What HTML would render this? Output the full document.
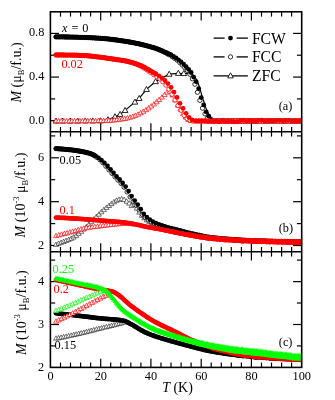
<!DOCTYPE html>
<html><head><meta charset="utf-8"><title>M(T)</title>
<style>
html,body{margin:0;padding:0;background:#fff;}
svg{display:block;font-family:"Liberation Serif",serif;will-change:transform;opacity:0.999;}
</style></head>
<body>
<svg width="335" height="400" viewBox="0 0 335 400">
<defs>
<marker id="fk" markerWidth="10" markerHeight="10" refX="0" refY="0" markerUnits="userSpaceOnUse" viewBox="-5 -5 10 10" overflow="visible"><circle r="2.4" fill="#000"/></marker>
<marker id="fr" markerWidth="10" markerHeight="10" refX="0" refY="0" markerUnits="userSpaceOnUse" viewBox="-5 -5 10 10" overflow="visible"><circle r="2.4" fill="#f00"/></marker>
<marker id="fg" markerWidth="10" markerHeight="10" refX="0" refY="0" markerUnits="userSpaceOnUse" viewBox="-5 -5 10 10" overflow="visible"><path d="M0,-3.0 L2.8,2.1 L-2.8,2.1 Z" fill="#0f0"/></marker>
<marker id="ok" markerWidth="10" markerHeight="10" refX="0" refY="0" markerUnits="userSpaceOnUse" viewBox="-5 -5 10 10" overflow="visible"><circle r="2.15" fill="#fff" stroke="#000" stroke-width="0.8"/></marker>
<marker id="or" markerWidth="10" markerHeight="10" refX="0" refY="0" markerUnits="userSpaceOnUse" viewBox="-5 -5 10 10" overflow="visible"><circle r="2.15" fill="#fff" stroke="#f00" stroke-width="0.8"/></marker>
<marker id="tk" markerWidth="10" markerHeight="10" refX="0" refY="0" markerUnits="userSpaceOnUse" viewBox="-5 -5 10 10" overflow="visible"><path d="M0,-3.0 L2.85,2.05 L-2.85,2.05 Z" fill="#fff" stroke="#000" stroke-width="0.85"/></marker>
<marker id="tr" markerWidth="10" markerHeight="10" refX="0" refY="0" markerUnits="userSpaceOnUse" viewBox="-5 -5 10 10" overflow="visible"><path d="M0,-2.6 L2.5,1.8 L-2.5,1.8 Z" fill="#fff" stroke="#f00" stroke-width="0.7"/></marker>
<marker id="tks" markerWidth="10" markerHeight="10" refX="0" refY="0" markerUnits="userSpaceOnUse" viewBox="-5 -5 10 10" overflow="visible"><path d="M0,-2.6 L2.5,1.8 L-2.5,1.8 Z" fill="#fff" stroke="#000" stroke-width="0.55"/></marker>
<marker id="trs" markerWidth="10" markerHeight="10" refX="0" refY="0" markerUnits="userSpaceOnUse" viewBox="-5 -5 10 10" overflow="visible"><path d="M0,-2.6 L2.5,1.8 L-2.5,1.8 Z" fill="#fff" stroke="#f00" stroke-width="0.7"/></marker>
<marker id="tgs" markerWidth="10" markerHeight="10" refX="0" refY="0" markerUnits="userSpaceOnUse" viewBox="-5 -5 10 10" overflow="visible"><path d="M0,-2.6 L2.5,1.8 L-2.5,1.8 Z" fill="#fff" stroke="#0f0" stroke-width="0.7"/></marker>
<clipPath id="clip"><rect x="50.4" y="11.8" width="251.3" height="355.6"/></clipPath>
</defs>
<rect width="335" height="400" fill="#fff"/>
<g stroke="#000">
<line x1="60.5" y1="11.8" x2="60.5" y2="16.6" stroke-width="1.2"/>
<line x1="60.5" y1="127" x2="60.5" y2="136.6" stroke-width="1.2"/>
<line x1="60.5" y1="247" x2="60.5" y2="256.6" stroke-width="1.2"/>
<line x1="60.5" y1="362.6" x2="60.5" y2="367.4" stroke-width="1.2"/>
<line x1="70.5" y1="11.8" x2="70.5" y2="16.6" stroke-width="1.2"/>
<line x1="70.5" y1="127" x2="70.5" y2="136.6" stroke-width="1.2"/>
<line x1="70.5" y1="247" x2="70.5" y2="256.6" stroke-width="1.2"/>
<line x1="70.5" y1="362.6" x2="70.5" y2="367.4" stroke-width="1.2"/>
<line x1="80.6" y1="11.8" x2="80.6" y2="16.6" stroke-width="1.2"/>
<line x1="80.6" y1="127" x2="80.6" y2="136.6" stroke-width="1.2"/>
<line x1="80.6" y1="247" x2="80.6" y2="256.6" stroke-width="1.2"/>
<line x1="80.6" y1="362.6" x2="80.6" y2="367.4" stroke-width="1.2"/>
<line x1="90.6" y1="11.8" x2="90.6" y2="16.6" stroke-width="1.2"/>
<line x1="90.6" y1="127" x2="90.6" y2="136.6" stroke-width="1.2"/>
<line x1="90.6" y1="247" x2="90.6" y2="256.6" stroke-width="1.2"/>
<line x1="90.6" y1="362.6" x2="90.6" y2="367.4" stroke-width="1.2"/>
<line x1="100.7" y1="11.8" x2="100.7" y2="20.4" stroke-width="1.2"/>
<line x1="100.7" y1="123.2" x2="100.7" y2="140.4" stroke-width="1.2"/>
<line x1="100.7" y1="243.2" x2="100.7" y2="260.4" stroke-width="1.2"/>
<line x1="100.7" y1="358.8" x2="100.7" y2="367.4" stroke-width="1.2"/>
<line x1="110.7" y1="11.8" x2="110.7" y2="16.6" stroke-width="1.2"/>
<line x1="110.7" y1="127" x2="110.7" y2="136.6" stroke-width="1.2"/>
<line x1="110.7" y1="247" x2="110.7" y2="256.6" stroke-width="1.2"/>
<line x1="110.7" y1="362.6" x2="110.7" y2="367.4" stroke-width="1.2"/>
<line x1="120.8" y1="11.8" x2="120.8" y2="16.6" stroke-width="1.2"/>
<line x1="120.8" y1="127" x2="120.8" y2="136.6" stroke-width="1.2"/>
<line x1="120.8" y1="247" x2="120.8" y2="256.6" stroke-width="1.2"/>
<line x1="120.8" y1="362.6" x2="120.8" y2="367.4" stroke-width="1.2"/>
<line x1="130.8" y1="11.8" x2="130.8" y2="16.6" stroke-width="1.2"/>
<line x1="130.8" y1="127" x2="130.8" y2="136.6" stroke-width="1.2"/>
<line x1="130.8" y1="247" x2="130.8" y2="256.6" stroke-width="1.2"/>
<line x1="130.8" y1="362.6" x2="130.8" y2="367.4" stroke-width="1.2"/>
<line x1="140.9" y1="11.8" x2="140.9" y2="16.6" stroke-width="1.2"/>
<line x1="140.9" y1="127" x2="140.9" y2="136.6" stroke-width="1.2"/>
<line x1="140.9" y1="247" x2="140.9" y2="256.6" stroke-width="1.2"/>
<line x1="140.9" y1="362.6" x2="140.9" y2="367.4" stroke-width="1.2"/>
<line x1="150.9" y1="11.8" x2="150.9" y2="20.4" stroke-width="1.2"/>
<line x1="150.9" y1="123.2" x2="150.9" y2="140.4" stroke-width="1.2"/>
<line x1="150.9" y1="243.2" x2="150.9" y2="260.4" stroke-width="1.2"/>
<line x1="150.9" y1="358.8" x2="150.9" y2="367.4" stroke-width="1.2"/>
<line x1="161" y1="11.8" x2="161" y2="16.6" stroke-width="1.2"/>
<line x1="161" y1="127" x2="161" y2="136.6" stroke-width="1.2"/>
<line x1="161" y1="247" x2="161" y2="256.6" stroke-width="1.2"/>
<line x1="161" y1="362.6" x2="161" y2="367.4" stroke-width="1.2"/>
<line x1="171" y1="11.8" x2="171" y2="16.6" stroke-width="1.2"/>
<line x1="171" y1="127" x2="171" y2="136.6" stroke-width="1.2"/>
<line x1="171" y1="247" x2="171" y2="256.6" stroke-width="1.2"/>
<line x1="171" y1="362.6" x2="171" y2="367.4" stroke-width="1.2"/>
<line x1="181.1" y1="11.8" x2="181.1" y2="16.6" stroke-width="1.2"/>
<line x1="181.1" y1="127" x2="181.1" y2="136.6" stroke-width="1.2"/>
<line x1="181.1" y1="247" x2="181.1" y2="256.6" stroke-width="1.2"/>
<line x1="181.1" y1="362.6" x2="181.1" y2="367.4" stroke-width="1.2"/>
<line x1="191.1" y1="11.8" x2="191.1" y2="16.6" stroke-width="1.2"/>
<line x1="191.1" y1="127" x2="191.1" y2="136.6" stroke-width="1.2"/>
<line x1="191.1" y1="247" x2="191.1" y2="256.6" stroke-width="1.2"/>
<line x1="191.1" y1="362.6" x2="191.1" y2="367.4" stroke-width="1.2"/>
<line x1="201.2" y1="11.8" x2="201.2" y2="20.4" stroke-width="1.2"/>
<line x1="201.2" y1="123.2" x2="201.2" y2="140.4" stroke-width="1.2"/>
<line x1="201.2" y1="243.2" x2="201.2" y2="260.4" stroke-width="1.2"/>
<line x1="201.2" y1="358.8" x2="201.2" y2="367.4" stroke-width="1.2"/>
<line x1="211.2" y1="11.8" x2="211.2" y2="16.6" stroke-width="1.2"/>
<line x1="211.2" y1="127" x2="211.2" y2="136.6" stroke-width="1.2"/>
<line x1="211.2" y1="247" x2="211.2" y2="256.6" stroke-width="1.2"/>
<line x1="211.2" y1="362.6" x2="211.2" y2="367.4" stroke-width="1.2"/>
<line x1="221.3" y1="11.8" x2="221.3" y2="16.6" stroke-width="1.2"/>
<line x1="221.3" y1="127" x2="221.3" y2="136.6" stroke-width="1.2"/>
<line x1="221.3" y1="247" x2="221.3" y2="256.6" stroke-width="1.2"/>
<line x1="221.3" y1="362.6" x2="221.3" y2="367.4" stroke-width="1.2"/>
<line x1="231.3" y1="11.8" x2="231.3" y2="16.6" stroke-width="1.2"/>
<line x1="231.3" y1="127" x2="231.3" y2="136.6" stroke-width="1.2"/>
<line x1="231.3" y1="247" x2="231.3" y2="256.6" stroke-width="1.2"/>
<line x1="231.3" y1="362.6" x2="231.3" y2="367.4" stroke-width="1.2"/>
<line x1="241.4" y1="11.8" x2="241.4" y2="16.6" stroke-width="1.2"/>
<line x1="241.4" y1="127" x2="241.4" y2="136.6" stroke-width="1.2"/>
<line x1="241.4" y1="247" x2="241.4" y2="256.6" stroke-width="1.2"/>
<line x1="241.4" y1="362.6" x2="241.4" y2="367.4" stroke-width="1.2"/>
<line x1="251.4" y1="11.8" x2="251.4" y2="20.4" stroke-width="1.2"/>
<line x1="251.4" y1="123.2" x2="251.4" y2="140.4" stroke-width="1.2"/>
<line x1="251.4" y1="243.2" x2="251.4" y2="260.4" stroke-width="1.2"/>
<line x1="251.4" y1="358.8" x2="251.4" y2="367.4" stroke-width="1.2"/>
<line x1="261.5" y1="11.8" x2="261.5" y2="16.6" stroke-width="1.2"/>
<line x1="261.5" y1="127" x2="261.5" y2="136.6" stroke-width="1.2"/>
<line x1="261.5" y1="247" x2="261.5" y2="256.6" stroke-width="1.2"/>
<line x1="261.5" y1="362.6" x2="261.5" y2="367.4" stroke-width="1.2"/>
<line x1="271.5" y1="11.8" x2="271.5" y2="16.6" stroke-width="1.2"/>
<line x1="271.5" y1="127" x2="271.5" y2="136.6" stroke-width="1.2"/>
<line x1="271.5" y1="247" x2="271.5" y2="256.6" stroke-width="1.2"/>
<line x1="271.5" y1="362.6" x2="271.5" y2="367.4" stroke-width="1.2"/>
<line x1="281.6" y1="11.8" x2="281.6" y2="16.6" stroke-width="1.2"/>
<line x1="281.6" y1="127" x2="281.6" y2="136.6" stroke-width="1.2"/>
<line x1="281.6" y1="247" x2="281.6" y2="256.6" stroke-width="1.2"/>
<line x1="281.6" y1="362.6" x2="281.6" y2="367.4" stroke-width="1.2"/>
<line x1="291.6" y1="11.8" x2="291.6" y2="16.6" stroke-width="1.2"/>
<line x1="291.6" y1="127" x2="291.6" y2="136.6" stroke-width="1.2"/>
<line x1="291.6" y1="247" x2="291.6" y2="256.6" stroke-width="1.2"/>
<line x1="291.6" y1="362.6" x2="291.6" y2="367.4" stroke-width="1.2"/>
<line x1="50.4" y1="120.7" x2="59" y2="120.7" stroke-width="1.2"/>
<line x1="293.1" y1="120.7" x2="301.7" y2="120.7" stroke-width="1.2"/>
<line x1="50.4" y1="77.1" x2="59" y2="77.1" stroke-width="1.2"/>
<line x1="293.1" y1="77.1" x2="301.7" y2="77.1" stroke-width="1.2"/>
<line x1="50.4" y1="33.4" x2="59" y2="33.4" stroke-width="1.2"/>
<line x1="293.1" y1="33.4" x2="301.7" y2="33.4" stroke-width="1.2"/>
<line x1="50.4" y1="98.9" x2="55.2" y2="98.9" stroke-width="1.2"/>
<line x1="296.9" y1="98.9" x2="301.7" y2="98.9" stroke-width="1.2"/>
<line x1="50.4" y1="55.2" x2="55.2" y2="55.2" stroke-width="1.2"/>
<line x1="296.9" y1="55.2" x2="301.7" y2="55.2" stroke-width="1.2"/>
<line x1="50.4" y1="245.5" x2="59" y2="245.5" stroke-width="1.2"/>
<line x1="293.1" y1="245.5" x2="301.7" y2="245.5" stroke-width="1.2"/>
<line x1="50.4" y1="201.7" x2="59" y2="201.7" stroke-width="1.2"/>
<line x1="293.1" y1="201.7" x2="301.7" y2="201.7" stroke-width="1.2"/>
<line x1="50.4" y1="157.8" x2="59" y2="157.8" stroke-width="1.2"/>
<line x1="293.1" y1="157.8" x2="301.7" y2="157.8" stroke-width="1.2"/>
<line x1="50.4" y1="223.6" x2="55.2" y2="223.6" stroke-width="1.2"/>
<line x1="296.9" y1="223.6" x2="301.7" y2="223.6" stroke-width="1.2"/>
<line x1="50.4" y1="179.7" x2="55.2" y2="179.7" stroke-width="1.2"/>
<line x1="296.9" y1="179.7" x2="301.7" y2="179.7" stroke-width="1.2"/>
<line x1="50.4" y1="135.9" x2="55.2" y2="135.9" stroke-width="1.2"/>
<line x1="296.9" y1="135.9" x2="301.7" y2="135.9" stroke-width="1.2"/>
<line x1="50.4" y1="324.5" x2="59" y2="324.5" stroke-width="1.2"/>
<line x1="293.1" y1="324.5" x2="301.7" y2="324.5" stroke-width="1.2"/>
<line x1="50.4" y1="281.6" x2="59" y2="281.6" stroke-width="1.2"/>
<line x1="293.1" y1="281.6" x2="301.7" y2="281.6" stroke-width="1.2"/>
<line x1="50.4" y1="345.9" x2="55.2" y2="345.9" stroke-width="1.2"/>
<line x1="296.9" y1="345.9" x2="301.7" y2="345.9" stroke-width="1.2"/>
<line x1="50.4" y1="303" x2="55.2" y2="303" stroke-width="1.2"/>
<line x1="296.9" y1="303" x2="301.7" y2="303" stroke-width="1.2"/>
<line x1="50.4" y1="260.1" x2="55.2" y2="260.1" stroke-width="1.2"/>
<line x1="296.9" y1="260.1" x2="301.7" y2="260.1" stroke-width="1.2"/>
</g>
<g clip-path="url(#clip)">
<polyline points="56,121 62.6,121 70.2,121 77.7,121 85.3,120.9 92.8,120.9 100.4,120.8 108,119.7 115,116.7 120.1,114.4 125.1,110.4 134.9,102.1 139.2,98.4 146.5,89.4 155.6,81.6 169.2,74.2 178.3,73.3 183.8,73.5 189.1,73.7 192.4,74.2 194.4,76.2 195.7,78.4 196.9,80.7 198.2,83.5 199.4,87 200.7,91.3 202,96 203.2,99.7 204.5,103.3 205.7,107.4 207,110.8 208.3,113.3 209.5,115.4 210.8,117.4 212,119.2 213.3,120.3 214.6,120.8 215.8,121 217.1,121 218.3,121 219.6,121 220.9,121 222.1,121 223.4,121 224.6,121 225.9,121 227.2,121 228.4,121 229.7,121 230.9,121 232.2,121 233.5,121 234.7,121 236,121 237.2,121 238.5,121 239.8,121 241,121 242.3,121 243.5,121 244.8,121 246.1,121 247.3,121 248.6,121 249.8,121 251.1,121 252.4,121 253.6,121 254.9,121 256.1,121 257.4,121 258.7,121 259.9,121 261.2,121 262.4,121 263.7,121 265,121 266.2,121 267.5,121 268.7,121 270,121 271.3,121 272.5,121 273.8,121 275,121 276.3,121 277.6,121 278.8,121 280.1,121 281.3,121 282.6,121 283.9,121 285.1,121 286.4,121 287.6,121 288.9,121 290.2,121 291.4,121 292.7,121 293.9,121 295.2,121 296.5,121 297.7,121 299,121 300.2,121 301.5,121" fill="none" stroke="#000" stroke-width="1.2"/>
<polyline points="56,121 62.6,121 70.2,121 77.7,121 85.3,120.9 92.8,120.9 100.4,120.8 108,119.7 115,116.7 120.1,114.4 125.1,110.4 134.9,102.1 139.2,98.4 146.5,89.4 155.6,81.6 169.2,74.2 178.3,73.3 183.8,73.5" fill="none" stroke="none" marker-start="url(#tk)" marker-mid="url(#tk)" marker-end="url(#tk)"/>
<polyline points="56,36.9 58.1,36.9 60.1,36.9 62.1,36.9 64.1,36.9 66.1,37 68.1,37 70.2,37.1 72.2,37.1 74.2,37.2 76.2,37.2 78.2,37.3 80.2,37.3 82.3,37.4 84.3,37.5 86.3,37.5 88.3,37.6 90.3,37.7 92.3,37.8 94.4,37.9 96.4,38.1 98.4,38.2 100.4,38.3 102.4,38.5 104.4,38.6 106.4,38.8 108.5,39 110.5,39.3 112.5,39.5 114.5,39.8 116.5,40 118.5,40.3 120.6,40.6 122.6,40.9 124.6,41.2 126.6,41.5 128.6,41.9 130.6,42.2 132.7,42.6 134.7,43 136.7,43.4 138.7,43.8 140.7,44.3 142.7,44.8 144.8,45.3 146.8,45.8 148.8,46.3 150.8,46.9 152.8,47.5 154.8,48.1 156.8,48.9 158.9,49.7 160.9,50.6 162.9,51.5 164.9,52.5 166.9,53.6 168.9,54.7 172.2,56.7 174.7,58.4 177.3,60.3 179.8,62.6 182.3,65.1 184.8,67.7 187.3,70.4 189.9,74.3 192.4,78.8 194.9,84.2 197.4,92.3 199.9,100.4 202.5,108.2 205,113.8 207.5,117.8 210,120.4 212.5,121 215.1,121 217.6,121 220.1,121 222.6,121 225.1,121 227.7,121 230.2,121 232.7,121 235.2,121 237.7,121 240.3,121 242.8,121 245.3,121 247.8,121 250.3,121 252.9,121 255.4,121 257.9,121 260.4,121 262.9,121 265.5,121 268,121 270.5,121 273,121 275.5,121 278.1,121 280.6,121 283.1,121 285.6,121 288.1,121 290.7,121 293.2,121 295.7,121 298.2,121 300.7,121" fill="none" stroke="none" marker-start="url(#ok)" marker-mid="url(#ok)" marker-end="url(#ok)"/>
<polyline points="56,36.9 57.3,36.9 58.6,36.9 59.8,36.9 61.1,36.9 62.3,36.9 63.6,36.9 64.9,37 66.1,37 67.4,37 68.6,37 69.9,37.1 71.2,37.1 72.4,37.1 73.7,37.1 74.9,37.2 76.2,37.2 77.5,37.2 78.7,37.3 80,37.3 81.2,37.4 82.5,37.4 83.8,37.4 85,37.5 86.3,37.5 87.5,37.6 88.8,37.7 90.1,37.7 91.3,37.8 92.6,37.8 93.8,37.9 95.1,38 96.4,38.1 97.6,38.1 98.9,38.2 100.1,38.3 101.4,38.4 102.7,38.5 103.9,38.6 105.2,38.7 106.4,38.8 107.7,38.9 109,39.1 110.2,39.2 111.5,39.4 112.7,39.5 114,39.7 115.3,39.9 116.5,40 117.8,40.2 119,40.4 120.3,40.6 121.6,40.8 122.8,40.9 124.1,41.1 125.3,41.3 126.6,41.5 127.9,41.7 129.1,42 130.4,42.2 131.6,42.4 132.9,42.6 134.2,42.9 135.4,43.1 136.7,43.4 137.9,43.7 139.2,43.9 140.5,44.2 141.7,44.5 143,44.8 144.2,45.1 145.5,45.4 146.8,45.8 148,46.1 149.3,46.4 150.5,46.8 151.8,47.2 153.1,47.5 154.3,47.9 155.6,48.3 156.8,48.7 158.1,49.2 159.4,49.7 160.6,50.2 161.9,50.7 163.1,51.3 164.4,51.8 165.7,52.4 166.9,53 168.2,53.6 169.4,54.2 170.7,54.9 171,55 173.5,56.5 176,58 178.5,59.8 181,61.8 183.6,64.1 186.1,66.7 188.6,69.3 191.1,72.5 193.6,77.1 196.2,81.7 198.7,88.6 201.2,97.6 203.7,104.9 206.2,111.9 208.8,116.2 211.3,119.7 213.8,121 216.3,121 218.8,121 221.4,121 223.9,121 226.4,121 228.9,121 231.4,121 234,121 236.5,121 239,121 241.5,121 244,121 246.6,121 249.1,121 251.6,121 254.1,121 256.6,121 259.2,121 261.7,121 264.2,121 266.7,121 269.2,121 271.8,121 274.3,121 276.8,121 279.3,121 281.8,121 284.4,121 286.9,121 289.4,121 291.9,121 294.4,121 297,121 299.5,121 302,121" fill="none" stroke="none" marker-start="url(#fk)" marker-mid="url(#fk)" marker-end="url(#fk)"/>
<polyline points="56,121 58.7,121 61.3,121 64,121 66.6,121 69.3,121 71.9,121 74.6,121 77.2,121 79.9,121 82.5,120.9 85.2,120.9 87.8,120.9 90.4,120.9 93.1,120.9 95.7,120.9 98.4,120.8 101,120.8 103.7,120.8 106.3,120.8 109,120.6 111.6,120.4 114.3,120.1 116.9,119.8 119.6,119.5 122.2,119.1 124.8,118.7 127.5,118.1 130.1,117.4 132.8,116.5 135.4,115.5 138.1,114.4 140.7,113 143.4,111.5 146,109.9 148.7,108.1 151.3,106.2 154,104.2 156.6,102 159.2,99.8 161.9,97.3 164.5,94.8 167.2,92.3 169.8,91.4 172.5,95.2 175.1,100.1 177.8,105.2 180.4,109.3 183.1,113.8 185.7,117.3 188.3,119.6 191,120.7 193.6,121 196.3,121 198.9,121 201.6,121 204.2,121 206.9,121 209.5,121 212.2,121 214.8,121 217.5,121 220.1,121 222.7,121 225.4,121 228,121 230.7,121 233.3,121 236,121 238.6,121 241.3,121 243.9,121 246.6,121 249.2,121 251.9,121 254.5,121 257.1,121 259.8,121 262.4,121 265.1,121 267.7,121 270.4,121 273,121 275.7,121 278.3,121 281,121 283.6,121 286.3,121 288.9,121 291.5,121 294.2,121 296.8,121 299.5,121" fill="none" stroke="none" marker-start="url(#tr)" marker-mid="url(#tr)" marker-end="url(#tr)"/>
<polyline points="56,55 58.1,55 60.1,55 62.1,55 64.1,55 66.1,55.1 68.1,55.1 70.2,55.1 72.2,55.1 74.2,55.2 76.2,55.2 78.2,55.3 80.2,55.4 82.3,55.5 84.3,55.6 86.3,55.7 88.3,55.9 90.3,56.1 92.3,56.3 94.4,56.5 96.4,56.8 98.4,57 100.4,57.3 102.4,57.5 104.4,57.8 106.4,58.1 108.5,58.4 110.5,58.7 112.5,59 114.5,59.3 116.5,59.6 118.5,59.9 120.6,60.2 122.6,60.5 124.6,60.8 126.6,61.2 128.6,61.7 130.6,62.2 132.7,62.8 134.7,63.5 136.7,64.3 138.7,65.2 140.7,66.1 142.7,67.2 144.8,68.5 146.8,69.7 148.8,71.1 150.8,72.6 153.8,74.6 156.8,76.7 159.9,79 162.9,81.8 165.9,85.1 168.9,89.2 172,94.3 175,99.9 178,105.6 181,110.3 184.1,115.4 187.1,118.7 190.1,120.4 193.1,121 196.2,121 199.2,120.8 202.2,120.9 205.2,120.9 208.3,121.3 211.3,121.3 214.3,120.6 217.3,120.8 220.4,121.2 223.4,120.4 226.4,120.9 229.4,121 232.4,121.4 235.5,121.2 238.5,120.9 241.5,120.9 244.5,120.9 247.6,121.5 250.6,120.9 253.6,120.9 256.6,121.1 259.7,121 262.7,120.9 265.7,120.7 268.7,121 271.8,120.9 274.8,121.3 277.8,121.2 280.8,121 283.9,121.2 286.9,120.9 289.9,121.3 292.9,121 296,121.2 299,120.6 302,121.1" fill="none" stroke="none" marker-start="url(#or)" marker-mid="url(#or)" marker-end="url(#or)"/>
<polyline points="56,55 57.3,55 58.6,55 59.8,55 61.1,55 62.3,55 63.6,55 64.9,55.1 66.1,55.1 67.4,55.1 68.6,55.1 69.9,55.1 71.2,55.1 72.4,55.1 73.7,55.2 74.9,55.2 76.2,55.2 77.5,55.3 78.7,55.3 80,55.4 81.2,55.4 82.5,55.5 83.8,55.5 85,55.6 86.3,55.7 87.5,55.8 88.8,55.9 90.1,56 91.3,56.2 92.6,56.3 93.8,56.5 95.1,56.6 96.4,56.8 97.6,56.9 98.9,57.1 100.1,57.2 101.4,57.4 102.7,57.6 103.9,57.7 105.2,57.9 106.4,58.1 107.7,58.3 109,58.5 110.2,58.7 111.5,58.8 112.7,59 114,59.2 115.3,59.4 116.5,59.6 117.8,59.8 119,59.9 120.3,60.1 121.6,60.3 122.8,60.5 124.1,60.7 125.3,61 126.6,61.2 127.9,61.5 129.1,61.8 130.4,62.1 131.6,62.5 132.9,62.8 134.2,63.2 135.4,63.6 136.7,64 137.9,64.5 139.2,65 140.5,65.4 141.7,66 143,66.6 144.2,67.2 145.5,67.9 146.8,68.6 148,69.3 149.3,70 150.5,70.8 151.8,71.6 153.1,72.4 154.3,73.1 155.6,73.9 155.8,74 158.9,75.8 161.9,78 164.9,80.5 167.9,83.6 171,87.4 174,92.1 177,97.4 180,103.3 183.1,108.4 186.1,113.3 189.1,117.4 192.1,119.9 195.2,120.9 198.2,121.1 201.2,121 204.2,121.2 207.2,121.4 210.3,121.4 213.3,121.4 216.3,120.8 219.3,121.7 222.4,120.4 225.4,121.4 228.4,121.2 231.4,121.4 234.5,121.8 237.5,121.7 240.5,120.5 243.5,120.2 246.6,121.4 249.6,120.5 252.6,121 255.6,121.4 258.7,120.3 261.7,120.1 264.7,121.1 267.7,121 270.8,120.9 273.8,121 276.8,120.6 279.8,120.3 282.8,120.9 285.9,120.6 288.9,120.3 291.9,121.2 294.9,121 298,121.2 301,120.6" fill="none" stroke="none" marker-start="url(#fr)" marker-mid="url(#fr)" marker-end="url(#fr)"/>
<polyline points="56,244.6 58.6,243.5 61.1,242.6 63.6,241.7 66.1,240.7 68.6,239.7 71.2,238.6 73.7,237.2 76.2,235.6 78.7,233.6 81.2,231.5 83.8,229.2 86.3,226.9 88.8,224.5 91.3,221.9 93.8,219.3 96.4,216.8 98.9,214.4 101.4,212 103.9,209.8 106.4,207.6 109,205.7 111.5,203.8 114,202 116.5,200.5 119,199.5 121.6,199 124.1,199.7 126.6,201.4 129.1,203.3 131.6,205.8 134.2,204.7 136.7,208.4 139.2,212.3 141.7,215.6 144.2,218 146.8,220 149.3,221.6 151.8,222.8 154.3,223.9 156.8,224.8 159.4,225.6 161.9,226.4 164.4,227.1 166.9,227.8 169.4,228.4 172,229 174.5,229.6 177,230.2 179.5,230.8 182,231.4 184.6,232.1 187.1,232.7 189.6,233.3 192.1,233.9 194.6,234.4 197.2,234.9 199.7,235.4" fill="none" stroke="none" marker-start="url(#tks)" marker-mid="url(#tks)" marker-end="url(#tks)"/>
<polyline points="56,148.6 58.1,148.8 60.1,148.9 62.1,149 64.1,149.2 66.1,149.4 68.1,149.6 70.2,149.8 72.2,150 74.2,150.3 76.2,150.6 78.2,150.9 80.2,151.2 82.3,151.6 84.3,152 86.3,152.5 88.3,153 90.3,153.6 92.3,154.5 94.4,155.7 96.9,157.4 99.9,159.8 102.9,162.8 105.9,166.3 109,169.9 112,173.4 115,176.8 118,180.1 121.1,183.5 124.1,187.2 127.1,191.9 130.1,196.9 133.2,201.3 136.2,205.4 139.2,210 142.2,214.4 145.3,217.5 148.3,220 151.3,221.9 154.3,223.3 157.4,224.5 160.4,225.6 163.4,226.6 166.4,227.5 169.4,228.3 172.5,229.1 175.5,229.9 178.5,230.6 181.5,231.4 184.6,232.1 187.6,232.9 190.6,233.6 193.6,234.2 196.7,234.8 199.7,235.4 202.7,236 205.7,236.6 208.8,237.1 211.8,237.5 214.8,237.9 217.8,238.2 220.9,238.5 223.9,238.7 226.9,238.9 229.9,239.2 233,239.4 236,239.6 239,239.8 242,240 245,240.2 248.1,240.4 251.1,240.5 254.1,240.6 257.1,240.7 260.2,240.8 263.2,240.9 266.2,241 269.2,241.1 272.3,241.2 275.3,241.3 278.3,241.4 281.3,241.4 284.4,241.5 287.4,241.6 290.4,241.6 293.4,241.7 296.5,241.7 299.5,241.7" fill="none" stroke="none" marker-start="url(#ok)" marker-mid="url(#ok)" marker-end="url(#ok)"/>
<polyline points="56,148.6 57.3,148.7 58.6,148.8 59.8,148.9 61.1,149 62.3,149.1 63.6,149.2 64.9,149.3 66.1,149.4 67.4,149.5 68.6,149.6 69.9,149.8 71.2,149.9 72.4,150.1 73.7,150.2 74.9,150.4 76.2,150.6 77.5,150.8 78.7,151 80,151.2 81.2,151.4 82.5,151.7 83.8,151.9 85,152.2 86.3,152.5 87.5,152.8 88.8,153.1 90.1,153.5 91.3,153.9 92.6,154.4 93.8,155 95.1,155.8 95.4,155.9 98.4,157.8 101.4,160.1 104.4,162.8 107.5,166 110.5,169.3 113.5,172.8 116.5,176.3 119.6,179.5 122.6,182.9 125.6,186.6 128.6,191.1 131.6,196.1 134.7,200.6 137.7,204.7 140.7,209.2 143.7,213.8 146.8,217.1 149.8,219.6 152.8,221.6 155.8,223.1 158.9,224.4 161.9,225.4 164.9,226.4 167.9,227.4 171,228.2 174,229 177,229.7 180,230.5 183.1,231.3 186.1,232.2 189.1,233 192.1,233.7 195.2,234.4 198.2,235.1 201.2,235.7 204.2,236.3 207.2,236.9 210.3,237.3 213.3,237.7 216.3,238 219.3,238.3 222.4,238.6 225.4,238.8 228.4,239.1 231.4,239.3 234.5,239.5 237.5,239.7 240.5,239.9 243.5,240.1 246.6,240.3 249.6,240.4 252.6,240.6 255.6,240.7 258.7,240.8 261.7,240.9 264.7,241 267.7,241.1 270.8,241.2 273.8,241.3 276.8,241.3 279.8,241.4 282.8,241.5 285.9,241.5 288.9,241.6 291.9,241.6 294.9,241.7 298,241.7 301,241.7" fill="none" stroke="none" marker-start="url(#fk)" marker-mid="url(#fk)" marker-end="url(#fk)"/>
<polyline points="56,235.8 58.8,235.1 61.6,234.4 64.4,233.7 67.1,233 69.9,232.2 72.7,231.5 75.5,230.7 78.2,229.9 81,229.1 83.8,228.4 86.5,227.9 89.3,227.4 92.1,227.1 94.9,226.7 97.6,226.4 100.4,226 103.2,225.7 105.9,225.3 108.7,225 111.5,224.7 114.3,224.4 117,224.1 119.8,223.8 122.6,223.5 125.3,223.4 128.1,223.5 130.9,223.8 133.7,224.2" fill="none" stroke="none" marker-start="url(#trs)" marker-mid="url(#trs)" marker-end="url(#trs)"/>
<polyline points="56,217.6 57.3,217.7 58.6,217.7 59.8,217.8 61.1,217.8 62.3,217.9 63.6,217.9 64.9,218 66.1,218.1 67.4,218.1 68.6,218.2 69.9,218.3 71.2,218.4 72.4,218.4 73.7,218.5 74.9,218.6 76.2,218.7 77.5,218.7 78.7,218.8 80,218.9 81.2,219 82.5,219.1 83.8,219.2 85,219.3 86.3,219.4 87.5,219.5 88.8,219.6 90.1,219.7 91.3,219.8 92.6,219.9 93.8,220 95.1,220.1 96.4,220.2 97.6,220.3 98.9,220.4 100.1,220.5 101.4,220.6 102.7,220.7 103.9,220.8 105.2,220.9 106.4,221 107.7,221.1 109,221.2 110.2,221.3 111.5,221.4 112.7,221.5 114,221.6 115.3,221.7 116.5,221.8 117.8,221.9 119,222 120.3,222.1 121.6,222.3 122.8,222.4 124.1,222.6 125.3,222.7 126.6,222.9 127.9,223.1 129.1,223.2 130.4,223.4 131.6,223.6 132.9,223.8 134.2,224.1 135.4,224.3 136.7,224.6 137.9,224.9 139.2,225.2 140.5,225.5 141.7,225.8 143,226.1 144.2,226.4 145.5,226.6 146.8,226.9 148,227.1 149.3,227.4 150.5,227.6 151.8,227.8 153.1,228 154.3,228.3 155.6,228.5 156.8,228.7 158.1,228.9 159.4,229.2 160.6,229.4 161.9,229.6 163.1,229.9 164.4,230.1 165.7,230.3 166.9,230.6 168.2,230.8 169.4,231.1 170.7,231.3 172,231.6 173.2,231.8 174.5,232.1 175.7,232.4 177,232.6 178.3,232.8 179.5,233.1 180.8,233.3 182,233.5 183.3,233.8 184.6,234.1 185.8,234.2 187.1,234.5 188.3,234.6 189.6,234.9 190.9,235 192.1,235.3 193.4,235.6 194.6,235.7 195.9,236 197.2,236.2 198.4,236.3 199.7,236.5 200.9,236.9 202.2,236.9 203.5,237 204.7,237.1 206,237.4 207.2,237.7 208.5,237.8 209.8,237.7 211,237.9 212.3,238 213.5,238.3 214.8,238.3 216.1,238.5 217.3,238.6 218.6,238.6 219.8,238.7 221.1,238.8 222.4,238.9 223.6,239.1 224.9,239.3 226.1,239.2 227.4,239.2 228.7,239.1 229.9,239.5 231.2,239.2 232.4,239.3 233.7,239.8 235,239.8 236.2,239.8 237.5,239.6 238.7,239.9 240,239.9 241.3,240.1 242.5,240.5 243.8,240.2 245,240.1 246.3,240.1 247.6,240.3 248.8,240.4 250.1,240.3 251.3,240.5 252.6,240.4 253.9,240.8 255.1,240.8 256.4,240.8 257.6,240.6 258.9,240.8 260.2,240.8 261.4,240.8 262.7,240.8 263.9,240.7 265.2,240.7 266.5,241.1 267.7,241 269,241.1 270.2,241.3 271.5,240.9 272.8,241.1 274,241.2 275.3,241.3 276.5,241.2 277.8,241.5 279.1,241.4 280.3,241.2 281.6,241.3 282.8,241.5 284.1,241.5 285.4,241.2 286.6,241.7 287.9,241.6 289.1,241.8 290.4,241.5 291.7,241.5 292.9,241.4 294.2,242 295.4,241.6 296.7,241.9 298,241.6 299.2,241.7 300.5,241.4 301.7,241.6" fill="none" stroke="none" marker-start="url(#fr)" marker-mid="url(#fr)" marker-end="url(#fr)"/>
<polyline points="164.4,230.1 165.7,230.4 166.9,230.6 168.2,230.9 169.4,231.2 170.7,231.4 172,231.7 173.2,232 174.5,232.3 175.7,232.6 177,232.8 178.3,233.1 179.5,233.3 180.8,233.6 182,233.8 183.3,234.1 184.6,234.4 185.8,234.6 187.1,234.8 188.3,235 189.6,235.3 190.9,235.4 192.1,235.7 193.4,236.1 194.6,236.1 195.9,236.5 197.2,236.7 198.4,236.8 199.7,237.1 200.9,237.4 202.2,237.4 203.5,237.6 204.7,237.7 206,238 207.2,238.3 208.5,238.5 209.8,238.4 211,238.6 212.3,238.7 213.5,239 214.8,239 216.1,239.2 217.3,239.3 218.6,239.4 219.8,239.5 221.1,239.7 222.4,239.7 223.6,239.9 224.9,240.2 226.1,240.1 227.4,240.1 228.7,240 229.9,240.4 231.2,240.1 232.4,240.2 233.7,240.7 235,240.7 236.2,240.7 237.5,240.5 238.7,240.8 240,240.8 241.3,241 242.5,241.4 243.8,241.1 245,241 246.3,241 247.6,241.2 248.8,241.3 250.1,241.2 251.3,241.4 252.6,241.3 253.9,241.7 255.1,241.7 256.4,241.7 257.6,241.5 258.9,241.7 260.2,241.7 261.4,241.7 262.7,241.7 263.9,241.6 265.2,241.6 266.5,242 267.7,241.9 269,242 270.2,242.2 271.5,241.8 272.8,242 274,242.1 275.3,242.2 276.5,242.1 277.8,242.4 279.1,242.3 280.3,242.1 281.6,242.2 282.8,242.4 284.1,242.4 285.4,242.1 286.6,242.6 287.9,242.5 289.1,242.7 290.4,242.4 291.7,242.4 292.9,242.3 294.2,242.9 295.4,242.5 296.7,242.8 298,242.5 299.2,242.6 300.5,242.3 301.7,242.5" fill="none" stroke="none" marker-start="url(#fr)" marker-mid="url(#fr)" marker-end="url(#fr)"/>
<polyline points="56,338.4 58.6,338 61.1,337.5 63.6,337 66.1,336.5 68.6,335.9 71.2,335.4 73.7,334.8 76.2,334.3 78.7,333.7 81.2,333.1 83.8,332.5 86.3,331.9 88.8,331.3 91.3,330.6 93.8,330 96.4,329.3 98.9,328.7 101.4,328.1 103.9,327.4 106.4,326.9 109,326.3 111.5,325.7 114,325 116.5,324.4 119,323.8 121.6,323.1 124.1,322.4" fill="none" stroke="none" marker-start="url(#tks)" marker-mid="url(#tks)" marker-end="url(#tks)"/>
<polyline points="56,313.2 57.3,313.4 58.6,313.5 59.8,313.7 61.1,313.8 62.3,313.9 63.6,314.1 64.9,314.2 66.1,314.4 67.4,314.5 68.6,314.7 69.9,314.8 71.2,314.9 72.4,315.1 73.7,315.2 74.9,315.4 76.2,315.5 77.5,315.7 78.7,315.8 80,316 81.2,316.1 82.5,316.3 83.8,316.4 85,316.6 86.3,316.7 87.5,316.9 88.8,317 90.1,317.2 91.3,317.4 92.6,317.5 93.8,317.7 95.1,317.8 96.4,318 97.6,318.1 98.9,318.2 100.1,318.4 101.4,318.5 102.7,318.6 103.9,318.7 105.2,318.9 106.4,318.9 107.7,319 109,319.1 110.2,319.2 111.5,319.3 112.7,319.4 114,319.5 115.3,319.6 116.5,319.7 117.8,319.9 119,320 120.3,320.2 121.6,320.4 122.8,320.6 124.1,320.8 125.3,321.2 126.6,321.8 127.9,322.5 129.1,323.2 130.4,323.9 131.6,324.5 132.9,325.2 134.2,326 135.4,326.7 136.7,327.5 137.9,328.3 139.2,329 140.5,329.8 141.7,330.5 143,331.2 144.2,331.9 145.5,332.5 146.8,333 148,333.6 149.3,334.1 150.5,334.6 151.8,335.1 153.1,335.5 154.3,336 155.6,336.4 156.8,336.8 158.1,337.2 159.4,337.7 160.6,338.1 161.9,338.4 163.1,338.8 164.4,339.2 165.7,339.6 166.9,339.9 168.2,340.3 169.4,340.6 170.7,341 172,341.4 173.2,341.7 174.5,342.1 175.7,342.4 177,342.8 178.3,343.1 179.5,343.5 180.8,343.8 182,344.1 183.3,344.6 184.6,344.9 185.8,345.2 187.1,345.5 188.3,345.8 189.6,346.1 190.9,346.5 192.1,346.8 193.4,347.2 194.6,347.5 195.9,347.8 197.2,348.2 198.4,348.4 199.7,348.8 200.9,349.1 202.2,349.3 203.5,349.8 204.7,350.1 206,350.3 207.2,350.6 208.5,350.9 209.8,351 211,351.4 212.3,351.5 213.5,351.8 214.8,351.9 216.1,352.3 217.3,352.5 218.6,352.6 219.8,352.8 221.1,353.1 222.4,353 223.6,353.5 224.9,353.6 226.1,353.8 227.4,354 228.7,354 229.9,354.3 231.2,354.6 232.4,354.7 233.7,354.8 235,354.7 236.2,355.2 237.5,355.4 238.7,355.6 240,355.6 241.3,355.5 242.5,356 243.8,356 245,355.7 246.3,356.3 247.6,356.1 248.8,356.3 250.1,356.5 251.3,356.9 252.6,356.8 253.9,357 255.1,357.3 256.4,357.4 257.6,357.2 258.9,357.3 260.2,357.2 261.4,357.4 262.7,357.7 263.9,357.8 265.2,357.8 266.5,358.1 267.7,357.9 269,358.1 270.2,358.3 271.5,358.4 272.8,358.5 274,358.5 275.3,358.5 276.5,358.7 277.8,358.5 279.1,358.5 280.3,358.9 281.6,358.9 282.8,359 284.1,358.8 285.4,359.1 286.6,359.1 287.9,359.1 289.1,359 290.4,359.3 291.7,359.6 292.9,359.5 294.2,359.4 295.4,359.6 296.7,359.7 298,359.3 299.2,359.7 300.5,359.8 301.7,359.9" fill="none" stroke="none" marker-start="url(#fk)" marker-mid="url(#fk)" marker-end="url(#fk)"/>
<polyline points="56,321.4 58.8,320.1 61.6,318.8 64.4,317.4 67.1,316.1 69.9,314.7 72.7,313.2 75.5,311.7 78.2,310.2 81,308.7 83.8,307.2 86.5,305.7 89.3,304.2 92.1,302.6 94.9,301.1 97.6,299.6 100.4,298.2 103.2,296.8 105.9,295.5 108.7,294.1" fill="none" stroke="none" marker-start="url(#trs)" marker-mid="url(#trs)" marker-end="url(#trs)"/>
<polyline points="56,279.9 57.3,280.2 58.6,280.5 59.8,280.8 61.1,281.1 62.3,281.4 63.6,281.6 64.9,281.9 66.1,282.2 67.4,282.5 68.6,282.8 69.9,283.1 71.2,283.3 72.4,283.6 73.7,283.9 74.9,284.2 76.2,284.4 77.5,284.7 78.7,285 80,285.3 81.2,285.6 82.5,285.8 83.8,286.1 85,286.4 86.3,286.7 87.5,287 88.8,287.2 90.1,287.5 91.3,287.8 92.6,288 93.8,288.3 95.1,288.6 96.4,288.8 97.6,289.1 98.9,289.3 100.1,289.6 101.4,289.8 102.7,290 103.9,290.1 105.2,290.3 106.4,290.5 107.7,290.7 109,290.9 110.2,291.1 111.5,291.4 112.7,291.7 114,292.1 115.3,292.8 116.5,293.7 117.8,294.6 119,295.5 120.3,296.5 121.6,297.5 122.8,298.6 124.1,299.8 125.3,300.9 126.6,302.1 127.9,303.2 129.1,304.3 130.4,305.3 131.6,306.3 132.9,307.2 134.2,308.2 135.4,309.1 136.7,310 137.9,310.9 139.2,311.8 140.5,312.6 141.7,313.5 143,314.4 144.2,315.2 145.5,316.1 146.8,316.9 148,317.7 149.3,318.6 150.5,319.3 151.8,320.1 153.1,320.8 154.3,321.6 155.6,322.2 156.8,322.9 158.1,323.5 159.4,324.2 160.6,324.8 161.9,325.4 163.1,326 164.4,326.6 165.7,327.2 166.9,327.8 168.2,328.4 169.4,329 170.7,329.5 172,330.2 173.2,330.8 174.5,331.4 175.7,332.1 177,332.7 178.3,333.3 179.5,334 180.8,334.7 182,335.3 183.3,336 184.6,336.6 185.8,337.2 187.1,338 188.3,338.5 189.6,339.2 190.9,339.8 192.1,340.2 193.4,340.6 194.6,341.2 195.9,341.7 197.2,342.3 198.4,342.9 199.7,343.2 200.9,343.9 202.2,344.2 203.5,344.9 204.7,345.3 206,345.8 207.2,346.3 208.5,346.7 209.8,347.2 211,347.5 212.3,348.1 213.5,348.7 214.8,349 216.1,349.3 217.3,349.6 218.6,349.7 219.8,350.3 221.1,350.4 222.4,350.8 223.6,351.1 224.9,351.4 226.1,351.6 227.4,352 228.7,352.1 229.9,352.5 231.2,353.2 232.4,353.1 233.7,353.4 235,353.8 236.2,354 237.5,354 238.7,354.4 240,354.8 241.3,354.9 242.5,355.1 243.8,355.5 245,355.3 246.3,355.6 247.6,355.7 248.8,356.2 250.1,355.8 251.3,356.1 252.6,356.3 253.9,356.6 255.1,356.7 256.4,356.9 257.6,356.6 258.9,357.1 260.2,357 261.4,357.1 262.7,357.4 263.9,357.3 265.2,357.2 266.5,357.6 267.7,357.6 269,357.8 270.2,358 271.5,358.1 272.8,358.4 274,358.3 275.3,358.2 276.5,358.4 277.8,358.4 279.1,358.5 280.3,358.8 281.6,358.7 282.8,358.6 284.1,359.1 285.4,359 286.6,359.1 287.9,359.2 289.1,359.3 290.4,359.3 291.7,359.5 292.9,359.4 294.2,359.4 295.4,359.5 296.7,359.2 298,359.4 299.2,359.4 300.5,359.5 301.7,359.3" fill="none" stroke="none" marker-start="url(#fr)" marker-mid="url(#fr)" marker-end="url(#fr)"/>
<polyline points="56,310.7 58.8,309.7 61.6,308.6 64.4,307.5 67.1,306.3 69.9,305.2 72.7,304 75.5,302.7 78.2,301.4 81,300.1 83.8,298.9 86.5,297.7 89.3,296.5 92.1,295.3 94.9,294.1 97.6,293 100.4,291.9 103.2,290.8" fill="none" stroke="none" marker-start="url(#tgs)" marker-mid="url(#tgs)" marker-end="url(#tgs)"/>
<polyline points="56,278.4 57.3,278.7 58.6,279 59.8,279.3 61.1,279.5 62.3,279.8 63.6,280.1 64.9,280.4 66.1,280.7 67.4,280.9 68.6,281.2 69.9,281.5 71.2,281.8 72.4,282.1 73.7,282.4 74.9,282.7 76.2,282.9 77.5,283.2 78.7,283.5 80,283.7 81.2,284 82.5,284.2 83.8,284.4 85,284.7 86.3,284.9 87.5,285.1 88.8,285.4 90.1,285.6 91.3,285.9 92.6,286.2 93.8,286.5 95.1,286.8 96.4,287.1 97.6,287.5 98.9,287.8 100.1,288.2 101.4,288.6 102.7,289.1 103.9,289.6 105.2,290.3 106.4,291.1 107.7,292 109,293.1 110.2,294.6 111.5,296.3 112.7,297.9 114,299.4 115.3,301 116.5,302.6 117.8,304.1 119,305.6 120.3,307.1 121.6,308.4 122.8,309.6 124.1,310.7 125.3,311.7 126.6,312.7 127.9,313.6 129.1,314.4 130.4,315.3 131.6,316.1 132.9,317 134.2,317.8 135.4,318.6 136.7,319.4 137.9,320.2 139.2,321 140.5,321.8 141.7,322.6 143,323.3 144.2,324 145.5,324.7 146.8,325.4 148,326.1 149.3,326.7 150.5,327.4 151.8,328 153.1,328.6 154.3,329.1 155.6,329.7 156.8,330.2 158.1,330.7 159.4,331.1 160.6,331.6 161.9,332 163.1,332.5 164.4,332.9 165.7,333.3 166.9,333.6 168.2,334 169.4,334.3 170.7,334.7 172,335.1 173.2,335.3 174.5,335.8 175.7,336.2 177,336.6 178.3,336.9 179.5,337.3 180.8,337.7 182,338.1 183.3,338.4 184.6,338.8 185.8,339.1 187.1,339.3 188.3,339.9 189.6,340.2 190.9,340.5 192.1,340.8 193.4,341.2 194.6,341.3 195.9,341.6 197.2,342 198.4,342.4 199.7,342.4 200.9,343 202.2,343.1 203.5,343.3 204.7,343.9 206,344 207.2,344.1 208.5,344.5 209.8,344.9 211,345.2 212.3,345.2 213.5,345.6 214.8,345.8 216.1,345.9 217.3,346.2 218.6,346.4 219.8,346.5 221.1,346.7 222.4,347 223.6,347.2 224.9,347.3 226.1,347.5 227.4,348 228.7,348 229.9,348.3 231.2,348.5 232.4,348.6 233.7,349.1 235,348.7 236.2,349.1 237.5,349.1 238.7,349.6 240,349.8 241.3,349.2 242.5,349.5 243.8,350 245,350.2 246.3,350.3 247.6,350.3 248.8,350.5 250.1,350.7 251.3,350.7 252.6,351.1 253.9,350.6 255.1,351.3 256.4,351.1 257.6,351.6 258.9,351.6 260.2,351.6 261.4,352 262.7,351.9 263.9,352 265.2,352 266.5,352.5 267.7,352.7 269,353 270.2,352.9 271.5,353.3 272.8,353.3 274,353.4 275.3,353.7 276.5,353.9 277.8,353.8 279.1,353.9 280.3,354.1 281.6,354.3 282.8,354.2 284.1,354.7 285.4,354.6 286.6,354.9 287.9,354.8 289.1,355.1 290.4,355.3 291.7,355.2 292.9,355.9 294.2,355.7 295.4,356.1 296.7,356 298,355.8 299.2,356 300.5,356.3 301.7,356.3" fill="none" stroke="none" marker-start="url(#fg)" marker-mid="url(#fg)" marker-end="url(#fg)"/>
<polyline points="151.8,328 153.1,328.6 154.3,329.2 155.6,329.8 156.8,330.3 158.1,330.9 159.4,331.3 160.6,331.8 161.9,332.3 163.1,332.8 164.4,333.2 165.7,333.6 166.9,334 168.2,334.4 169.4,334.8 170.7,335.2 172,335.6 173.2,335.9 174.5,336.4 175.7,336.8 177,337.3 178.3,337.6 179.5,338 180.8,338.5 182,338.9 183.3,339.2 184.6,339.7 185.8,340 187.1,340.2 188.3,340.8 189.6,341.2 190.9,341.5 192.1,341.8 193.4,342.2 194.6,342.4 195.9,342.8 197.2,343.1 198.4,343.6 199.7,343.7 200.9,344.3 202.2,344.4 203.5,344.6 204.7,345.2 206,345.4 207.2,345.5 208.5,345.9 209.8,346.4 211,346.7 212.3,346.7 213.5,347.1 214.8,347.4 216.1,347.5 217.3,347.9 218.6,348.1 219.8,348.3 221.1,348.5 222.4,348.8 223.6,349.1 224.9,349.2 226.1,349.4 227.4,349.9 228.7,350 229.9,350.3 231.2,350.6 232.4,350.6 233.7,351.2 235,350.8 236.2,351.3 237.5,351.2 238.7,351.8 240,352 241.3,351.4 242.5,351.7 243.8,352.2 245,352.4 246.3,352.5 247.6,352.5 248.8,352.7 250.1,352.9 251.3,352.9 252.6,353.3 253.9,352.8 255.1,353.5 256.4,353.3 257.6,353.8 258.9,353.8 260.2,353.8 261.4,354.2 262.7,354.1 263.9,354.2 265.2,354.2 266.5,354.7 267.7,354.9 269,355.2 270.2,355.1 271.5,355.5 272.8,355.5 274,355.6 275.3,355.9 276.5,356.1 277.8,356 279.1,356.1 280.3,356.3 281.6,356.5 282.8,356.4 284.1,356.9 285.4,356.8 286.6,357.1 287.9,357 289.1,357.3 290.4,357.5 291.7,357.4 292.9,358.1 294.2,357.9 295.4,358.3 296.7,358.2 298,358 299.2,358.2 300.5,358.5 301.7,358.5" fill="none" stroke="none" marker-start="url(#fg)" marker-mid="url(#fg)" marker-end="url(#fg)"/>
</g>
<rect x="50.4" y="11.8" width="251.3" height="355.6" fill="none" stroke="#000" stroke-width="1.6"/><line x1="50.4" y1="131.8" x2="301.7" y2="131.8" stroke="#000" stroke-width="1.6"/><line x1="50.4" y1="251.8" x2="301.7" y2="251.8" stroke="#000" stroke-width="1.6"/>
<text x="44.3" y="36.4" font-size="12.3" text-anchor="end" fill="#000">0.8</text>
<text x="44.3" y="80.1" font-size="12.3" text-anchor="end" fill="#000">0.4</text>
<text x="44.3" y="123.7" font-size="12.3" text-anchor="end" fill="#000">0.0</text>
<text x="44.2" y="161.1" font-size="12.3" text-anchor="end" fill="#000">6</text>
<text x="44.2" y="205" font-size="12.3" text-anchor="end" fill="#000">4</text>
<text x="44.2" y="248.8" font-size="12.3" text-anchor="end" fill="#000">2</text>
<text x="44.2" y="284.9" font-size="12.3" text-anchor="end" fill="#000">4</text>
<text x="44.2" y="327.8" font-size="12.3" text-anchor="end" fill="#000">3</text>
<text x="44.2" y="370.7" font-size="12.3" text-anchor="end" fill="#000">2</text>
<text x="50.5" y="380.3" font-size="12.3" text-anchor="middle" fill="#000">0</text>
<text x="100.8" y="380.3" font-size="12.3" text-anchor="middle" fill="#000">20</text>
<text x="151" y="380.3" font-size="12.3" text-anchor="middle" fill="#000">40</text>
<text x="201.3" y="380.3" font-size="12.3" text-anchor="middle" fill="#000">60</text>
<text x="251.5" y="380.3" font-size="12.3" text-anchor="middle" fill="#000">80</text>
<text x="301.8" y="380.3" font-size="12.3" text-anchor="middle" fill="#000">100</text>
<text x="177.5" y="391.5" font-size="14" text-anchor="middle" fill="#000"><tspan font-style="italic">T</tspan> (K)</text>
<text transform="translate(20.6,72.5) rotate(-90)" font-size="14" text-anchor="middle"><tspan font-style="italic">M</tspan> (μ<tspan font-size="8.5" dy="3">B</tspan><tspan dy="-3">/f.u.)</tspan></text>
<text transform="translate(25.4,195) rotate(-90)" font-size="14" text-anchor="middle"><tspan font-style="italic">M</tspan> (10<tspan font-size="8.5" dy="-6">-3</tspan><tspan dy="6"> </tspan>μ<tspan font-size="8.5" dy="3">B</tspan><tspan dy="-3">/f.u.)</tspan></text>
<text transform="translate(25.6,312.7) rotate(-90)" font-size="14" text-anchor="middle"><tspan font-style="italic">M</tspan> (10<tspan font-size="8.5" dy="-6">-3</tspan><tspan dy="6"> </tspan>μ<tspan font-size="8.5" dy="3">B</tspan><tspan dy="-3">/f.u.)</tspan></text>
<text x="62" y="31.6" font-size="12.3" text-anchor="start" fill="#000" word-spacing="0.9"><tspan font-style="italic">x</tspan> = 0</text>
<text x="61.4" y="68" font-size="12.3" text-anchor="start" fill="#f00">0.02</text>
<text x="59.6" y="163.5" font-size="12.3" text-anchor="start" fill="#000">0.05</text>
<text x="59.6" y="213.8" font-size="12.3" text-anchor="start" fill="#f00">0.1</text>
<text x="52.6" y="273.2" font-size="12.3" text-anchor="start" fill="#0f0">0.25</text>
<text x="53.5" y="293" font-size="12.3" text-anchor="start" fill="#f00">0.2</text>
<text x="54.6" y="348.9" font-size="12.3" text-anchor="start" fill="#000">0.15</text>
<text x="278.7" y="110.1" font-size="12.3" text-anchor="start" fill="#000">(a)</text>
<text x="278.7" y="232" font-size="12.3" text-anchor="start" fill="#000">(b)</text>
<text x="278.8" y="346.1" font-size="12.3" text-anchor="start" fill="#000">(c)</text>
<line x1="213.6" y1="38.1" x2="224.6" y2="38.1" stroke="#000" stroke-width="1.3"/>
<line x1="236.6" y1="38.1" x2="247.9" y2="38.1" stroke="#000" stroke-width="1.3"/>
<g transform="translate(230.5,38.1)"><circle r="2.4" fill="#000"/></g>
<text x="251.9" y="43.5" font-size="15.7" text-anchor="start" fill="#000">FCW</text>
<line x1="213.6" y1="56.9" x2="224.6" y2="56.9" stroke="#000" stroke-width="1.3"/>
<line x1="236.6" y1="56.9" x2="247.9" y2="56.9" stroke="#000" stroke-width="1.3"/>
<g transform="translate(230.5,56.9)"><circle r="2.15" fill="#fff" stroke="#000" stroke-width="0.8"/></g>
<text x="251.9" y="62.2" font-size="15.7" text-anchor="start" fill="#000">FCC</text>
<line x1="213.6" y1="75.8" x2="247.9" y2="75.8" stroke="#000" stroke-width="1.3"/>
<g transform="translate(230.5,75.8)"><path d="M0,-3.0 L2.85,2.05 L-2.85,2.05 Z" fill="#fff" stroke="#000" stroke-width="0.85"/></g>
<text x="251.9" y="81.1" font-size="15.7" text-anchor="start" fill="#000">ZFC</text>
</svg>
</body></html>
